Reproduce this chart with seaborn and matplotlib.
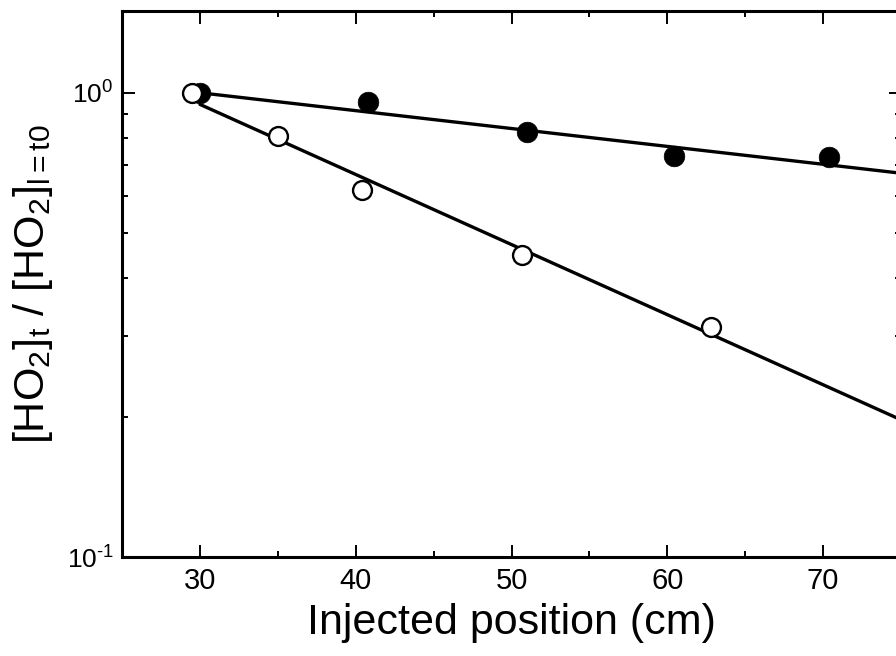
import numpy as np
import pandas as pd
import matplotlib
matplotlib.use("Agg")
import matplotlib.pyplot as plt
import seaborn as sns
from matplotlib.ticker import LogLocator, NullFormatter, FuncFormatter

# measured HO2 decay vs injector position
x_filled = [30.0, 40.8, 51.0, 60.4, 70.4]
y_filled = [1.0, 0.956, 0.824, 0.729, 0.727]
x_open = [29.5, 35.0, 40.4, 50.7, 62.8]
y_open = [1.0, 0.808, 0.618, 0.448, 0.3135]

# fitted lines (end points)
fit_x = [30.0, 75.0]
fit_filled = [1.0, 0.671]
fit_open = [0.944, 0.1975]

sns.set_style("ticks")
plt.rcParams['font.family'] = ['Liberation Sans', 'DejaVu Sans']
plt.rcParams['mathtext.fontset'] = 'custom'
plt.rcParams['mathtext.rm'] = 'Liberation Sans'
plt.rcParams['mathtext.it'] = 'Liberation Sans:italic'
plt.rcParams['mathtext.bf'] = 'Liberation Sans:bold'
plt.rcParams['axes.unicode_minus'] = False
for key in ['text.color', 'axes.labelcolor', 'xtick.color', 'ytick.color']:
    plt.rcParams[key] = 'black'


def pow10(v, pos):
    n = int(round(np.log10(v)))
    exp = str(n) if n >= 0 else r'\text{-}' + str(-n)
    return r'$\mathdefault{10^{' + exp + '}}$'


fig = plt.figure(figsize=(8.96, 6.56), dpi=100)
ax = fig.add_axes([0.1362, 0.1509, 0.8694, 0.8323])

sns.lineplot(x=fit_x, y=fit_filled, ax=ax, color='black', linewidth=2.4, zorder=2)
sns.lineplot(x=fit_x, y=fit_open, ax=ax, color='black', linewidth=2.4, zorder=2)
sns.scatterplot(x=x_filled, y=y_filled, ax=ax, color='black', s=220,
                edgecolor='black', linewidth=0.5, zorder=3)
sns.scatterplot(x=x_open, y=y_open, ax=ax, color='white', s=185,
                edgecolor='black', linewidth=1.7, zorder=4)

ax.set_yscale('log')
ax.set_xlim(25, 75)
ax.set_ylim(0.1, 1.5)
ax.set_xticks([30, 40, 50, 60, 70])
ax.set_xticks([35, 45, 55, 65], minor=True)
ax.yaxis.set_major_locator(LogLocator(base=10, numticks=10))
ax.yaxis.set_minor_locator(LogLocator(base=10, subs=np.arange(2, 10), numticks=10))
ax.yaxis.set_major_formatter(FuncFormatter(pow10))
ax.yaxis.set_minor_formatter(NullFormatter())

for side in ['left', 'right', 'top', 'bottom']:
    ax.spines[side].set_linewidth(2.2)
    ax.spines[side].set_color('black')

ax.tick_params(which='both', direction='in', top=True, right=True, color='black')
ax.tick_params(which='major', length=9, width=1.4)
ax.tick_params(which='minor', length=4.5, width=1.4)
ax.tick_params(axis='x', which='major', labelsize=21, pad=7)
ax.tick_params(axis='y', which='major', labelsize=19, pad=6)

ax.set_xlabel('Injected position (cm)', fontsize=31, labelpad=6)
ax.set_ylabel(r'[HO$_2$]$_\mathregular{t}$ / [HO$_2$]$_\mathregular{l=t0}$',
              fontsize=31, labelpad=8)

fig.savefig('out.png', dpi=100)
